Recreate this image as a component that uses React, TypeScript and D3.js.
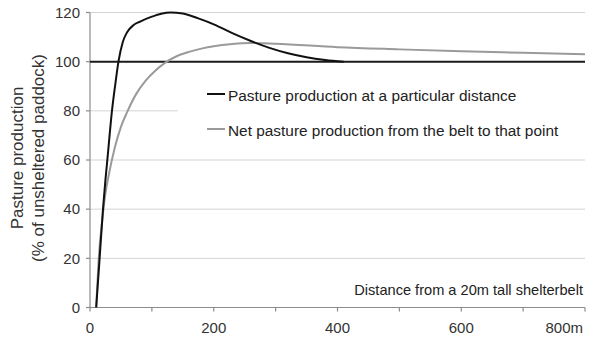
import React from "react";
import * as d3 from "d3";

const localDistance = [10, 15, 21, 25, 28, 35.5, 41, 46, 53, 60, 70, 81, 100, 115, 130, 150, 175, 200, 230, 260, 290, 320, 350, 380, 410];
const localValue = [0, 18, 40, 52, 60, 80, 91, 100, 108, 112, 114.8, 116.3, 118.3, 119.5, 120, 119.6, 117.6, 115.2, 111.6, 108.4, 105.6, 103.4, 101.8, 100.7, 100];

const netDistance = [10, 15, 20, 25, 30, 40, 50, 60, 75, 90, 105, 120, 140, 160, 180, 200, 230, 260, 300, 400, 500, 600, 700, 800];
const netValue = [0, 23, 36, 46.5, 53.5, 65, 73.5, 79.5, 87, 92.3, 96.2, 99.3, 102.2, 104, 105.3, 106.3, 107.2, 107.6, 107.3, 105.9, 105.0, 104.2, 103.6, 103.0];

const yTicks = [0, 20, 40, 60, 80, 100, 120];
const xTicks = [0, 100, 200, 300, 400, 500, 600, 700, 800];
const xLabels = ["0", "", "200", "", "400", "", "600", "", "800m"];

const legendLabels = [
  "Pasture production at a particular distance",
  "Net pasture production from the belt to that point",
];
const yTitle = ["Pasture production", "(% of unsheltered paddock)"];
const xTitle = "Distance from a 20m tall shelterbelt";

const W = 594;
const H = 339;
const FONT = "Liberation Sans, Arial, sans-serif";

export default function App() {
  const x = d3.scaleLinear().domain([0, 800]).range([90, 585]);
  const y = d3.scaleLinear().domain([0, 120]).range([307.5, 12.5]);

  const line = d3
    .line<[number, number]>()
    .x((d) => x(d[0]))
    .y((d) => y(d[1]))
    .curve(d3.curveMonotoneX);

  const localPts = localDistance.map((d, i) => [d, localValue[i]] as [number, number]);
  const netPts = netDistance.map((d, i) => [d, netValue[i]] as [number, number]);

  const x0 = x(0);
  const x1 = x(800);

  return (
    <svg
      width={W}
      height={H}
      style={{ position: "absolute", left: 0, top: 0, background: "#fff" }}
      fontFamily={FONT}
    >
      <rect x={0} y={0} width={W} height={H} fill="#fff" />
      {yTicks
        .filter((t) => t !== 0 && t !== 100)
        .map((t) => (
          <line key={"g" + t} x1={x0} x2={x1} y1={y(t)} y2={y(t)} stroke="#d4d4d4" strokeWidth={1} />
        ))}
      <line x1={x0} x2={x0} y1={y(120)} y2={y(0)} stroke="#8c8c8c" strokeWidth={1.2} />
      {yTicks.map((t) => (
        <g key={"yt" + t}>
          <line x1={x0 - 4} x2={x0} y1={y(t)} y2={y(t)} stroke="#8c8c8c" strokeWidth={1.2} />
          <text x={80} y={y(t)} dy="0.35em" textAnchor="end" fontSize={15} fill="#333">
            {t}
          </text>
        </g>
      ))}
      <line x1={x0} x2={x1} y1={y(0)} y2={y(0)} stroke="#8c8c8c" strokeWidth={1.2} />
      {xTicks.map((t, i) => (
        <g key={"xt" + t}>
          <line x1={x(t)} x2={x(t)} y1={y(0)} y2={y(0) + 4} stroke="#8c8c8c" strokeWidth={1.2} />
          {xLabels[i] && (
            <text
              x={i === xTicks.length - 1 ? x(t) - 2 : x(t)}
              y={333}
              textAnchor={i === xTicks.length - 1 ? "end" : "middle"}
              fontSize={15}
              fill="#333"
            >
              {xLabels[i]}
            </text>
          )}
        </g>
      ))}
      <rect x={178} y={74} width={412} height={72} fill="#fff" />
      <line x1={x0} x2={x1} y1={y(100)} y2={y(100)} stroke="#1a1a1a" strokeWidth={2} />
      <path d={line(netPts) || ""} fill="none" stroke="#9a9a9a" strokeWidth={2} />
      <path d={line(localPts) || ""} fill="none" stroke="#111" strokeWidth={2} />
      <line x1={207} x2={225} y1={94} y2={94} stroke="#111" strokeWidth={2} />
      <text x={228} y={100.5} fontSize={15.4} fill="#222">
        {legendLabels[0]}
      </text>
      <line x1={207} x2={225} y1={129} y2={129} stroke="#9a9a9a" strokeWidth={2} />
      <text x={228} y={135.5} fontSize={15.4} fill="#222">
        {legendLabels[1]}
      </text>
      <text x={583} y={295} textAnchor="end" fontSize={14.6} fill="#222">
        {xTitle}
      </text>
      <text transform="translate(23,158) rotate(-90)" textAnchor="middle" fontSize={17} fill="#333">
        {yTitle[0]}
      </text>
      <text transform="translate(44,158) rotate(-90)" textAnchor="middle" fontSize={17} fill="#333">
        {yTitle[1]}
      </text>
    </svg>
  );
}
